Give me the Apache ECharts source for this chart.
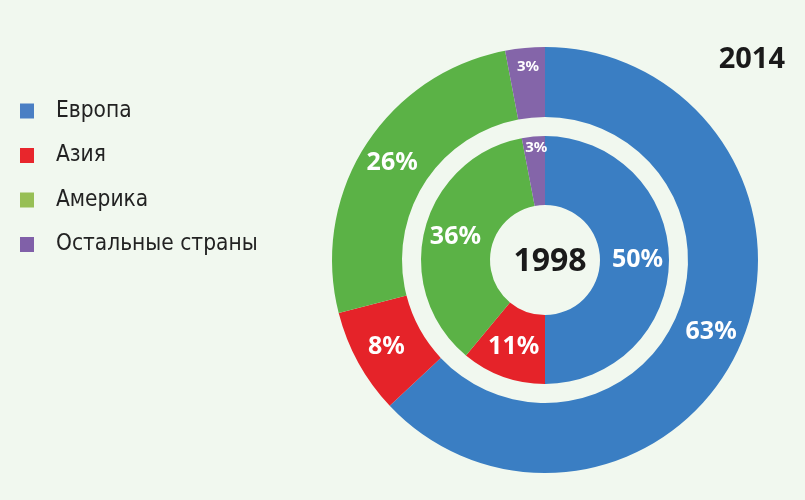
<!DOCTYPE html>
<html><head><meta charset="utf-8">
<script src="https://cdn.jsdelivr.net/npm/echarts@6/dist/echarts.min.js"></script>
<style>html,body{margin:0;padding:0;background:#f1f8ef}#c{width:805px;height:500px}</style>
</head><body><div id="c"></div>
<script>
const categories = ['Европа', 'Азия', 'Америка', 'Остальные страны'];
const values2014 = [63, 8, 26, 3];
const values1998 = [50, 11, 36, 3];
const ringColors = ['#3a7ec3', '#e52329', '#5bb246', '#8465a9'];
const legendColors = ['#4a7fc4', '#e8262c', '#97bf55', '#8060a8'];
const outerTitle = '2014';
const innerTitle = '1998';

const labelBase = {show: true, position: 'inside', color: '#fff', fontFamily: 'Noto Sans', fontWeight: 'bold', fontSize: 25, formatter: '{c}%'};
function mkData(vals, gap) {
  return vals.map((v, i) => {
    const d = {name: categories[i], value: v, itemStyle: {color: ringColors[i]}};
    if (i === 3) d.label = {
      formatter: '{s|{c}%}\n{g|}',
      rich: {
        s: {fontSize: 15, fontFamily: 'Noto Sans', fontWeight: 'bold', color: '#fff', lineHeight: 18},
        g: {height: gap, lineHeight: gap}
      }
    };
    return d;
  });
}
const chart = echarts.init(document.getElementById('c'));
chart.setOption({
  backgroundColor: '#f1f8ef',
  animation: false,
  title: [
    {text: outerTitle, right: 15, top: 40, textStyle: {fontFamily: 'Noto Sans', fontWeight: 'bold', fontSize: 29, color: '#1a1a1a'}},
    {text: innerTitle, left: 545, top: 241, textAlign: 'center', textStyle: {fontFamily: 'Noto Sans', fontWeight: 'bold', fontSize: 32, color: '#1a1a1a'}}
  ],
  legend: {
    orient: 'vertical', left: 15, top: 91, itemWidth: 14, itemHeight: 15, itemGap: 14.5,
    icon: 'rect', selectedMode: false,
    data: categories.map((c, i) => ({name: c, itemStyle: {color: legendColors[i]}})),
    textStyle: {fontFamily: 'DejaVu Sans Condensed', fontSize: 22.5, color: '#222', lineHeight: 30, padding: [0, 0, 0, 17]}
  },
  series: [
    {type: 'pie', center: [545, 260], radius: [143, 213], startAngle: 90, clockwise: true, silent: true,
     label: labelBase, labelLine: {show: false}, data: mkData(values2014, 26)},
    {type: 'pie', center: [545, 260], radius: [55, 124], startAngle: 90, clockwise: true, silent: true,
     label: labelBase, labelLine: {show: false}, data: mkData(values1998, 40)}
  ]
});
</script></body></html>
